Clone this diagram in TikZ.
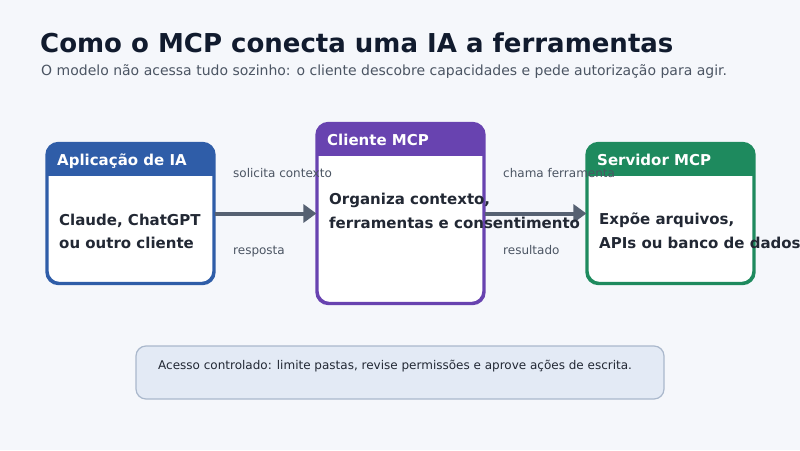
\documentclass[tikz,border=0pt]{standalone}
\usepackage{fontspec}
\setmainfont{DejaVu Sans}
\usetikzlibrary{arrows.meta,calc}
\definecolor{bgc}{HTML}{F5F7FB}
\definecolor{titlec}{HTML}{111B2E}
\definecolor{subc}{HTML}{4B5563}
\definecolor{bluec}{HTML}{2F5DA8}
\definecolor{purplec}{HTML}{6843B0}
\definecolor{greenc}{HTML}{1E8A5E}
\definecolor{bodyc}{HTML}{222834}
\definecolor{arrowc}{HTML}{566172}
\definecolor{notefill}{HTML}{E3EAF5}
\definecolor{notedraw}{HTML}{AAB8CC}
\tikzset{
  card/.style={draw=#1, line width=2.2pt, fill=white, rounded corners=12pt, inner sep=0pt},
  headtxt/.style={anchor=base west, text=white, font=\fontsize{15}{18}\selectfont\bfseries, inner sep=0pt},
  bodytxt/.style={anchor=base west, text=bodyc, font=\fontsize{15}{18}\selectfont\bfseries, inner sep=0pt},
  lbl/.style={anchor=base west, text=subc, font=\fontsize{12}{14}\selectfont, inner sep=0pt},
  flow/.style={draw=arrowc, line width=4pt, -{Triangle[length=13pt,width=18pt]}},
}
\begin{document}
\begin{tikzpicture}[x=1pt,y=-1pt]
\fill[bgc] (0,0) rectangle (800,450);
\useasboundingbox (0,0) rectangle (800,450);
\node[anchor=base west, text=titlec, font=\fontsize{26}{31}\selectfont\bfseries, inner sep=0pt] (title) at (40,52) {Como o MCP conecta uma IA a ferramentas};
\node[anchor=base west, text=subc, font=\fontsize{14}{17}\selectfont, inner sep=0pt] (sub) at (41,75) {O modelo não acessa tudo sozinho: o cliente descobre capacidades e pede autorização para agir.};
% cards
\node[card=bluec, minimum width=166pt, minimum height=139pt] (app) at (130.5,213.5) {};
\node[card=purplec, minimum width=166pt, minimum height=179pt] (cli) at (400.5,213.5) {};
\node[card=greenc, minimum width=166pt, minimum height=139pt] (srv) at (670.5,213.5) {};
\foreach \n/\c in {app/bluec,cli/purplec,srv/greenc}{
  \begin{scope}
    \clip[rounded corners=12pt] (\n.north west) rectangle (\n.south east);
    \fill[\c] (\n.north west) rectangle ($(\n.north east)+(0,33)$);
  \end{scope}
  \draw[\c, line width=2.2pt, rounded corners=12pt] (\n.north west) rectangle (\n.south east);
}
\node[headtxt] (apph) at (57,165) {Aplicação de IA};
\node[headtxt] (clih) at (327,145) {Cliente MCP};
\node[headtxt] (srvh) at (597,165) {Servidor MCP};
% arrows
\draw[flow] (app.east) -- (cli.west);
\draw[flow] (cli.east) -- (srv.west);
\node[lbl] (l1) at (233,177) {solicita contexto};
\node[lbl] (l2) at (233,254) {resposta};
\node[lbl] (l3) at (503,177) {chama ferramenta};
\node[lbl] (l4) at (503,254) {resultado};
% body
\node[bodytxt] (appb1) at (59,225) {Claude, ChatGPT};
\node[bodytxt] (appb2) at (59,248) {ou outro cliente};
\node[bodytxt] (clib1) at (329,204) {Organiza contexto,};
\node[bodytxt] (clib2) at (329,228) {ferramentas e consentimento};
\node[bodytxt] (srvb1) at (599,224) {Expõe arquivos,};
\node[bodytxt] (srvb2) at (599,248) {APIs ou banco de dados};
% note
\node[draw=notedraw, fill=notefill, line width=1.2pt, rounded corners=10pt, minimum width=528pt, minimum height=53pt, inner sep=0pt] (note) at (400,372.5) {};
\node[anchor=base west, text=bodyc, font=\fontsize{12}{14}\selectfont, inner sep=0pt] (notet) at (158,369) {Acesso controlado: limite pastas, revise permissões e aprove ações de escrita.};
\end{tikzpicture}
\end{document}
